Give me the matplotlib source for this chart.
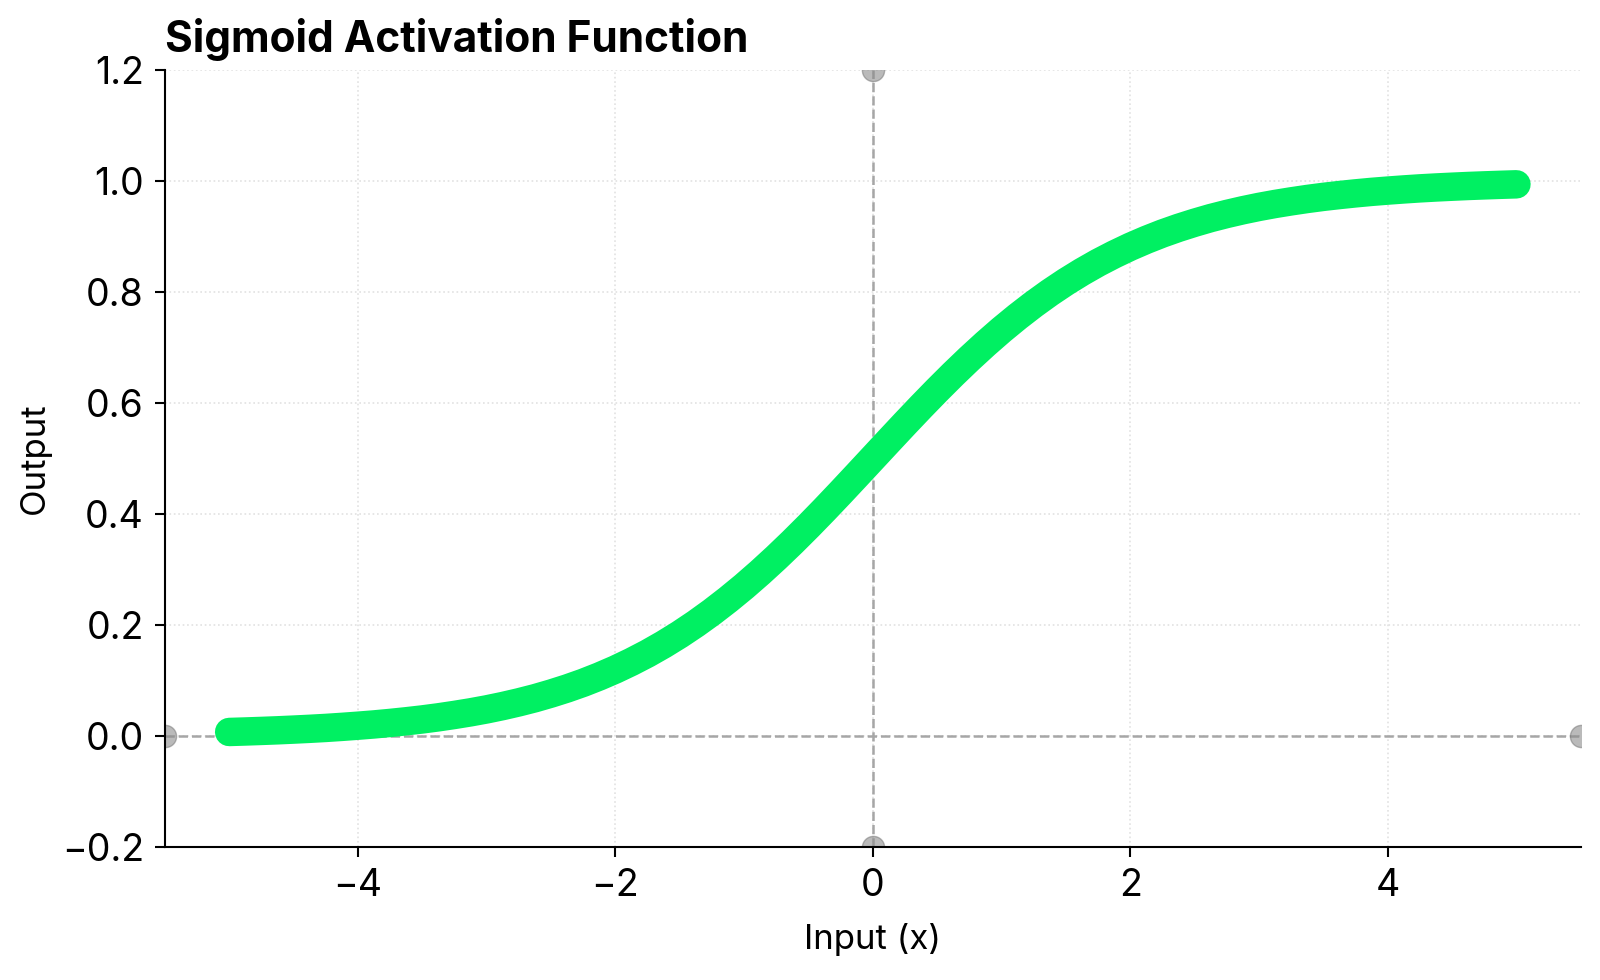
import matplotlib
matplotlib.use("Agg")
import matplotlib.pyplot as plt

# values, every 0.125 along x
x_vals = [-5.0, -4.875, -4.75, -4.625, -4.5, -4.375, -4.25, -4.125,
          -4.0, -3.875, -3.75, -3.625, -3.5, -3.375, -3.25, -3.125,
          -3.0, -2.875, -2.75, -2.625, -2.5, -2.375, -2.25, -2.125,
          -2.0, -1.875, -1.75, -1.625, -1.5, -1.375, -1.25, -1.125,
          -1.0, -0.875, -0.75, -0.625, -0.5, -0.375, -0.25, -0.125,
          0.0, 0.125, 0.25, 0.375, 0.5, 0.625, 0.75, 0.875,
          1.0, 1.125, 1.25, 1.375, 1.5, 1.625, 1.75, 1.875,
          2.0, 2.125, 2.25, 2.375, 2.5, 2.625, 2.75, 2.875,
          3.0, 3.125, 3.25, 3.375, 3.5, 3.625, 3.75, 3.875,
          4.0, 4.125, 4.25, 4.375, 4.5, 4.625, 4.75, 4.875, 5.0]
y_vals = [0.0067, 0.0076, 0.0086, 0.0097, 0.0110, 0.0124, 0.0140, 0.0159,
          0.0180, 0.0203, 0.0230, 0.0260, 0.0293, 0.0331, 0.0374, 0.0421,
          0.0474, 0.0534, 0.0601, 0.0675, 0.0759, 0.0851, 0.0953, 0.1067,
          0.1192, 0.1330, 0.1480, 0.1645, 0.1824, 0.2018, 0.2227, 0.2451,
          0.2689, 0.2942, 0.3208, 0.3486, 0.3775, 0.4073, 0.4378, 0.4688,
          0.5000, 0.5312, 0.5622, 0.5927, 0.6225, 0.6514, 0.6792, 0.7058,
          0.7311, 0.7549, 0.7773, 0.7982, 0.8176, 0.8355, 0.8520, 0.8670,
          0.8808, 0.8933, 0.9047, 0.9149, 0.9241, 0.9325, 0.9399, 0.9466,
          0.9526, 0.9579, 0.9626, 0.9669, 0.9707, 0.9740, 0.9770, 0.9797,
          0.9820, 0.9841, 0.9860, 0.9876, 0.9890, 0.9903, 0.9914, 0.9924, 0.9933]

x_ticks = [-4, -2, 0, 2, 4]
y_ticks = [-0.2, 0.0, 0.2, 0.4, 0.6, 0.8, 1.0, 1.2]

plt.rcParams['font.family'] = ['Inter', 'DejaVu Sans']

fig = plt.figure(figsize=(16, 9.8), dpi=100)
ax = fig.add_axes([0.103, 0.136, 0.885, 0.793])

# reference lines through the origin, with end markers
ref_style = dict(color='#a6a6a6', linestyle='--', linewidth=1.8, marker='o',
                 markersize=16, markerfacecolor=(0.55, 0.55, 0.55, 0.6),
                 markeredgecolor=(0.45, 0.45, 0.45, 0.5), zorder=1)
ax.axhline(0, **ref_style)
ax.axvline(0, **ref_style)

ax.plot(x_vals, y_vals, color='#00F062', linewidth=20.5,
        solid_capstyle='round', solid_joinstyle='round', zorder=3)

ax.set_xlim(-5.5, 5.5)
ax.set_ylim(-0.2, 1.2)
ax.set_xticks(x_ticks)
ax.set_yticks(y_ticks)
ax.set_yticklabels([f"{t:.1f}".replace('-', '\u2212') for t in y_ticks])
ax.set_xticklabels([str(t).replace('-', '\u2212') for t in x_ticks])
ax.tick_params(labelsize=27, length=7, width=1.5, pad=8)

ax.grid(True, linestyle=':', color='#e2e2e2', linewidth=1.2, zorder=0)
ax.set_axisbelow(True)

for side in ['top', 'right']:
    ax.spines[side].set_visible(False)
for side in ['left', 'bottom']:
    ax.spines[side].set_linewidth(1.5)

ax.set_title('Sigmoid Activation Function', loc='left', fontsize=30.5,
             fontweight='bold', pad=13)
ax.set_xlabel('Input (x)', fontsize=25, labelpad=14)
ax.set_ylabel('Output', fontsize=25, labelpad=8)

fig.savefig('out.png', dpi=100)
